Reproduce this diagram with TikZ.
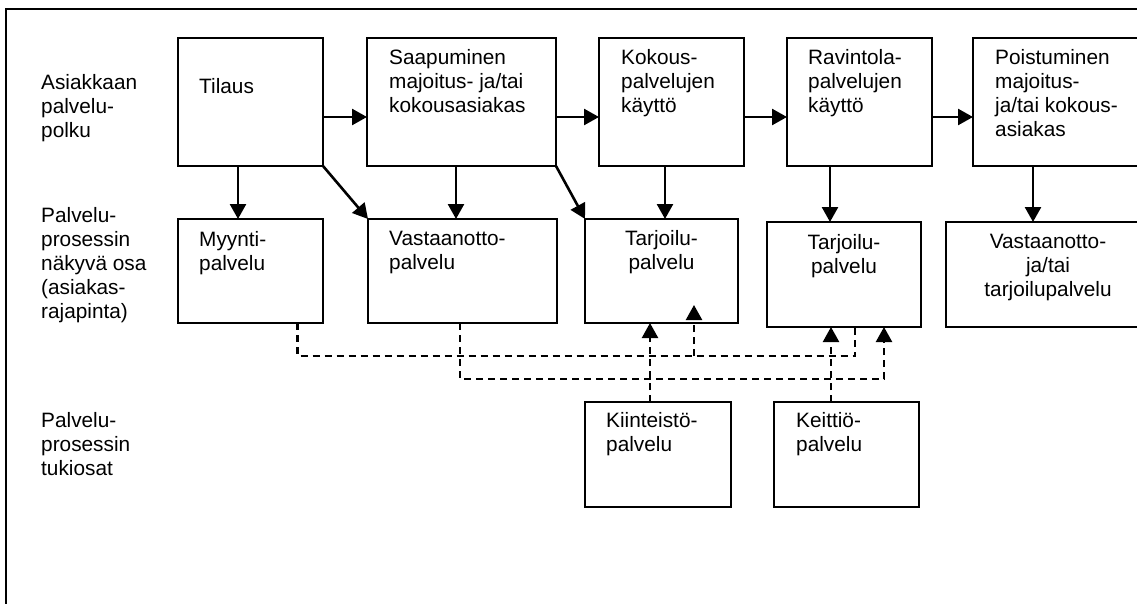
\documentclass[tikz,border=0pt]{standalone}
\usepackage{fontspec}
\setmainfont{Liberation Sans}
\usetikzlibrary{arrows.meta}
\begin{document}
\begin{tikzpicture}[x=1pt,y=-1pt,
  box/.style={draw, line width=2.2pt, inner sep=0pt, outer sep=0pt, anchor=north west},
  txt/.style={font=\fontsize{20.8}{24}\selectfont, align=left, inner sep=0pt, anchor=north west,
              execute at begin node=\rule{0pt}{18pt}},
  ctxt/.style={txt, align=center, anchor=north},
  arr/.style={line width=2.6pt, -{Triangle[length=15pt,width=16pt]}},
  dsh/.style={line width=2.2pt, dash pattern=on 7pt off 5pt},
  darr/.style={dsh, -{Triangle[length=15pt,width=16pt]}}]
\useasboundingbox (0,0) rectangle (1137,604);
\clip (0,0) rectangle (1137,604);

% outer frame (continues past the right and bottom edges)
\draw[line width=2.4pt] (1140,9) -- (6,9) -- (6,610);

% row labels
\node[txt] (l1) at (41,74) {Asiakkaan\\palvelu-\\polku};
\node[txt] (l2) at (41,207) {Palvelu-\\prosessin\\näkyvä osa\\(asiakas-\\rajapinta)};
\node[txt] (l3) at (41,412) {Palvelu-\\prosessin\\tukiosat};

% customer path
\node[box, minimum width=145pt, minimum height=128pt] (tilaus) at (178,38) {};
\node[box, minimum width=189pt, minimum height=128pt] (saap)   at (367,38) {};
\node[box, minimum width=145pt, minimum height=128pt] (kokous) at (599,38) {};
\node[box, minimum width=145pt, minimum height=128pt] (ravint) at (787,38) {};
\node[box, minimum width=187pt, minimum height=128pt] (poist)  at (973,38) {};

\node[txt] (t1) at (199,75) {Tilaus};
\node[txt] (t2) at (389,49) {Saapuminen\\majoitus- ja/tai\\kokousasiakas};
\node[txt] (t3) at (621,49) {Kokous-\\palvelujen\\käyttö};
\node[txt] (t4) at (808,49) {Ravintola-\\palvelujen\\käyttö};
\node[txt] (t5) at (995,49) {Poistuminen\\majoitus-\\ja/tai kokous-\\asiakas};

% visible part of the service process
\node[box, minimum width=145pt, minimum height=104pt] (myynti) at (178,219) {};
\node[box, minimum width=189pt, minimum height=104pt] (vast)   at (368,219) {};
\node[box, minimum width=153pt, minimum height=104pt] (tarj1)  at (585,219) {};
\node[box, minimum width=154pt, minimum height=105pt] (tarj2)  at (767,222) {};
\node[box, minimum width=204pt, minimum height=105pt] (vast2)  at (946,222) {};

\node[txt] (s1) at (199,231) {Myynti-\\palvelu};
\node[txt] (s2) at (389,231) {Vastaanotto-\\palvelu};
\node[ctxt] (s3) at (661.5,230) {Tarjoilu-\\palvelu};
\node[ctxt] (s4) at (844,234) {Tarjoilu-\\palvelu};
\node[ctxt] (s5) at (1048,234) {Vastaanotto-\\ja/tai\\tarjoilupalvelu};

% support processes
\node[box, minimum width=146pt, minimum height=105pt] (kiint) at (585,402) {};
\node[box, minimum width=145pt, minimum height=105pt] (keitt) at (774,402) {};

\node[txt] (k1) at (606,412) {Kiinteistö-\\palvelu};
\node[txt] (k2) at (796,412) {Keittiö-\\palvelu};

% path arrows
\draw[arr] (tilaus.east |- 0,117) -- (saap.west |- 0,117);
\draw[arr] (saap.east |- 0,117) -- (kokous.west |- 0,117);
\draw[arr] (kokous.east |- 0,117) -- (ravint.west |- 0,117);
\draw[arr] (ravint.east |- 0,117) -- (poist.west |- 0,117);

% from the path to the visible process
\draw[arr] (tilaus.south -| 238,0) -- (myynti.north -| 238,0);
\draw[arr] (tilaus.south east) -- (vast.north west);
\draw[arr] (saap.south -| 456,0) -- (vast.north -| 456,0);
\draw[arr] (saap.south east) -- (tarj1.north west);
\draw[arr] (kokous.south -| 665,0) -- (tarj1.north -| 665,0);
\draw[arr] (ravint.south -| 830,0) -- (tarj2.north -| 830,0);
\draw[arr] (poist.south -| 1033,0) -- (vast2.north -| 1033,0);

% dashed links between the service units
\coordinate (mj) at (694,356);
\coordinate (mt) at (694,305);
\draw[dsh] (myynti.south -| 297.5,0) -- (297.5,356) -- (855,356) -- (tarj2.south -| 855,0);
\draw[darr] (mj) -- (mt);
\draw[darr] (vast.south -| 460,0) -- (460,379) -- (884,379) -- (tarj2.south -| 884,0);
\draw[darr] (kiint.north -| 650,0) -- (tarj1.south -| 650,0);
\draw[darr] (keitt.north -| 831,0) -- (tarj2.south -| 831,0);
\end{tikzpicture}
\end{document}
